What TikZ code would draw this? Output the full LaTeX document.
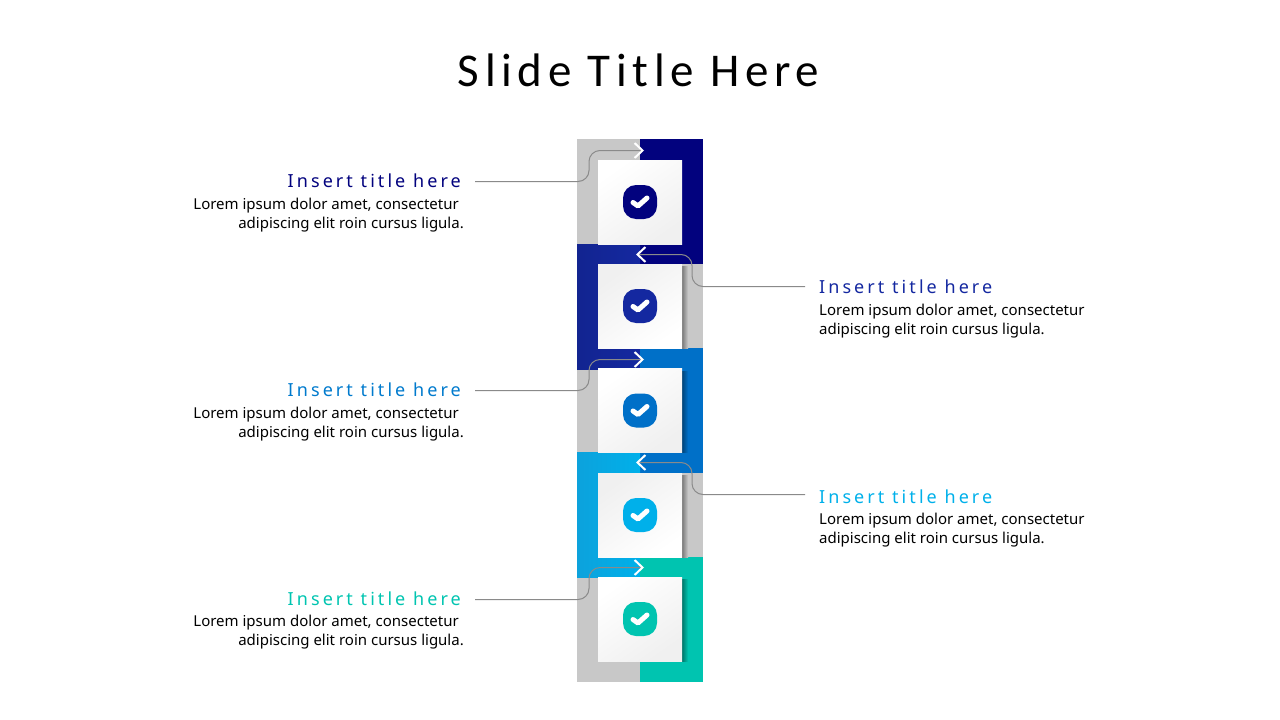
\documentclass[tikz,border=0pt]{standalone}
\usepackage{fontspec}
\usepackage{tikz}
\usetikzlibrary{positioning,arrows.meta}
\setmainfont{Noto Sans}
\newfontfamily\slidefont[LetterSpace=12]{Carlito}
\newfontfamily\itemfont[LetterSpace=17]{Noto Sans}
\definecolor{navyc}{HTML}{02027E}
\definecolor{bluec}{HTML}{1428A0}
\definecolor{midc}{HTML}{0070C8}
\definecolor{cyanc}{HTML}{00B0EA}
\definecolor{cyanl}{HTML}{0CA2DC}
\definecolor{tealc}{HTML}{00C4B0}
\definecolor{grayc}{HTML}{C8C8C8}
\definecolor{linec}{HTML}{8A8A8A}
\tikzset{
  card/.style={inner sep=0pt,minimum width=84pt,minimum height=84pt,shading=axis,left color=white,right color=white!94!black,shading angle=35},
  cardb/.style={inner sep=0pt,minimum width=84pt,minimum height=84pt,shading=axis,left color=white!94!black,right color=white,shading angle=35},
  icon/.style={inner sep=0pt,minimum size=34pt,rounded corners=13pt},
  tick/.style={draw=white,line width=5pt,line cap=round,line join=round},
  lefthead/.style={font=\itemfont\fontsize{18}{20}\selectfont,anchor=east,inner xsep=14pt,inner ysep=0pt},
  righthead/.style={font=\itemfont\fontsize{18}{20}\selectfont,anchor=west,inner xsep=14pt,inner ysep=0pt},
  leftbody/.style={font=\fontsize{15}{19}\selectfont,anchor=north east,align=right,inner sep=0pt},
  rightbody/.style={font=\fontsize{15}{19}\selectfont,anchor=north west,align=left,inner sep=0pt},
  leader/.style={draw=linec,line width=1pt,rounded corners=11pt,-{Straight Barb[white,length=8pt,width=15pt,line width=2pt]}},
}
\newcommand{\tickmark}[1]{\draw[tick] ([shift={(-7,0.5)}]#1.center)--([shift={(-2,4)}]#1.center)--([shift={(7,-4)}]#1.center);}
\newcommand{\cardshadow}[3]{\fill[left color=#3!60!black,right color=#3] (688,#1) rectangle (682,#2);}
\begin{document}
\begin{tikzpicture}[x=1pt,y=-1pt]
\useasboundingbox (0,0) rectangle (1280,720);

\node[font=\slidefont\fontsize{47}{50}\selectfont,inner sep=0pt] (slidetitle) at (638.5,70) {Slide Title Here};

% column
\fill[grayc] (577,139) rectangle (703,682);
\fill[navyc] (640,139) rectangle (703,264);
\fill[left color=bluec!90!black,right color=bluec] (577,244) rectangle (640,369);
\fill[midc] (640,348) rectangle (703,473);
\fill[left color=cyanl,right color=cyanc] (577,452) rectangle (640,577);
\fill[tealc] (640,557) rectangle (703,682);

% shadows
\cardshadow{266}{348}{grayc}
\cardshadow{371}{452}{midc}
\cardshadow{475}{557}{grayc}
\cardshadow{579}{661}{tealc}

% cards
\node[card] (card1) at (640,202) {};
\node[cardb] (card2) at (640,306) {};
\node[card] (card3) at (640,410.5) {};
\node[cardb] (card4) at (640,515) {};
\node[card] (card5) at (640,619) {};

\node[icon,fill=navyc] (icon1) at (card1) {};
\node[icon,fill=bluec] (icon2) at (card2) {};
\node[icon,fill=midc] (icon3) at (card3) {};
\node[icon,fill=cyanc] (icon4) at (card4) {};
\node[icon,fill=tealc] (icon5) at (card5) {};
\tickmark{icon1}
\tickmark{icon2}
\tickmark{icon3}
\tickmark{icon4}
\tickmark{icon5}

% labels
\node[lefthead,text=navyc] (head1) at (475,181) {Insert title here};
\node[righthead,text=bluec] (head2) at (805,287) {Insert title here};
\node[lefthead,text=midc!85!cyanc] (head3) at (475,390) {Insert title here};
\node[righthead,text=cyanc] (head4) at (805,497) {Insert title here};
\node[lefthead,text=tealc] (head5) at (475,599) {Insert title here};

\node[leftbody] (body1) at (464,198) {Lorem ipsum dolor amet, consectetur\hspace*{5pt}\\adipiscing elit roin cursus ligula.};
\node[rightbody] (body2) at (819,304) {Lorem ipsum dolor amet, consectetur\\adipiscing elit roin cursus ligula.};
\node[leftbody] (body3) at (464,407) {Lorem ipsum dolor amet, consectetur\hspace*{5pt}\\adipiscing elit roin cursus ligula.};
\node[rightbody] (body4) at (819,513) {Lorem ipsum dolor amet, consectetur\\adipiscing elit roin cursus ligula.};
\node[leftbody] (body5) at (464,615) {Lorem ipsum dolor amet, consectetur\hspace*{5pt}\\adipiscing elit roin cursus ligula.};

% connectors
\coordinate (tip1) at (644,150.5);
\coordinate (tip2) at (636,254.5);
\coordinate (tip3) at (644,359.5);
\coordinate (tip4) at (636,462.5);
\coordinate (tip5) at (644,567.5);
\draw[leader] ([yshift=-0.5pt]head1.east)--(589,181.5)--(589,150.5)--(tip1);
\draw[leader] ([yshift=0.5pt]head2.west)--(692,286.5)--(692,254.5)--(tip2);
\draw[leader] ([yshift=-0.5pt]head3.east)--(589,390.5)--(589,359.5)--(tip3);
\draw[leader] ([yshift=2.5pt]head4.west)--(692,494.5)--(692,462.5)--(tip4);
\draw[leader] ([yshift=-0.5pt]head5.east)--(589,599.5)--(589,567.5)--(tip5);
\end{tikzpicture}
\end{document}
